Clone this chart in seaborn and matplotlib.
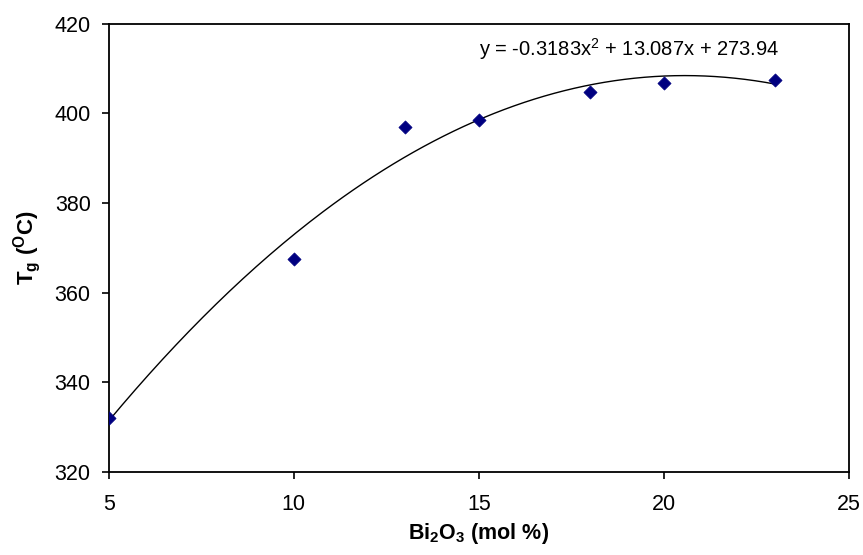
import numpy as np
import pandas as pd
import matplotlib
matplotlib.use("Agg")
import matplotlib.pyplot as plt
import seaborn as sns

bi2o3 = [5, 10, 13, 15, 18, 20, 23]
tg = [332.1, 367.6, 396.9, 398.5, 404.8, 406.7, 407.4]
coef = [-0.3183, 13.087, 273.94]
xticks = [5, 10, 15, 20, 25]
yticks = [320, 340, 360, 380, 400, 420]
eq_text = r"y = -0.3183x$^2$ + 13.087x + 273.94"

sns.set_style("white")
plt.rcParams["font.family"] = ["Liberation Sans", "DejaVu Sans"]
plt.rcParams["text.color"] = "black"
plt.rcParams["axes.labelcolor"] = "black"
plt.rcParams["mathtext.fontset"] = "custom"
plt.rcParams["mathtext.rm"] = "Liberation Sans"
plt.rcParams["mathtext.it"] = "Liberation Sans:italic"
plt.rcParams["mathtext.bf"] = "Liberation Sans:bold"

fig = plt.figure(figsize=(8.63, 5.55), dpi=100)
ax = fig.add_axes([0.126, 0.1495, 0.858, 0.8075])

df = pd.DataFrame({"x": bi2o3, "y": tg})
xs = np.linspace(min(bi2o3), max(bi2o3), 200)
fit = pd.DataFrame({"x": xs, "y": np.polyval(coef, xs)})

sns.lineplot(data=fit, x="x", y="y", ax=ax, color="black", linewidth=1.0)
sns.scatterplot(data=df, x="x", y="y", ax=ax, marker="D", s=45,
                color="#000080", edgecolor="#000080", linewidth=0.5, zorder=3)

ax.set_xlim(5, 25)
ax.set_ylim(320, 420)
ax.set_xticks(xticks)
ax.set_yticks(yticks)
ax.tick_params(axis="both", direction="out", length=5, width=1.2,
               labelsize=15.5, colors="black", bottom=True, left=True)
ax.tick_params(axis="x", pad=11)
ax.tick_params(axis="y", pad=8)
for sp in ax.spines.values():
    sp.set_visible(True)
    sp.set_color("black")
    sp.set_linewidth(1.3)

ax.set_xlabel(r"$\mathbf{Bi_2O_3\ (mol\ \%)}$", fontsize=15.5, labelpad=4)
ax.set_ylabel(r"$\mathbf{T_g\ (^OC)}$", fontsize=16, labelpad=8)
ax.text(15.0, 414.4, eq_text, fontsize=14.5, ha="left", va="center")

fig.savefig("out.png", dpi=100)
